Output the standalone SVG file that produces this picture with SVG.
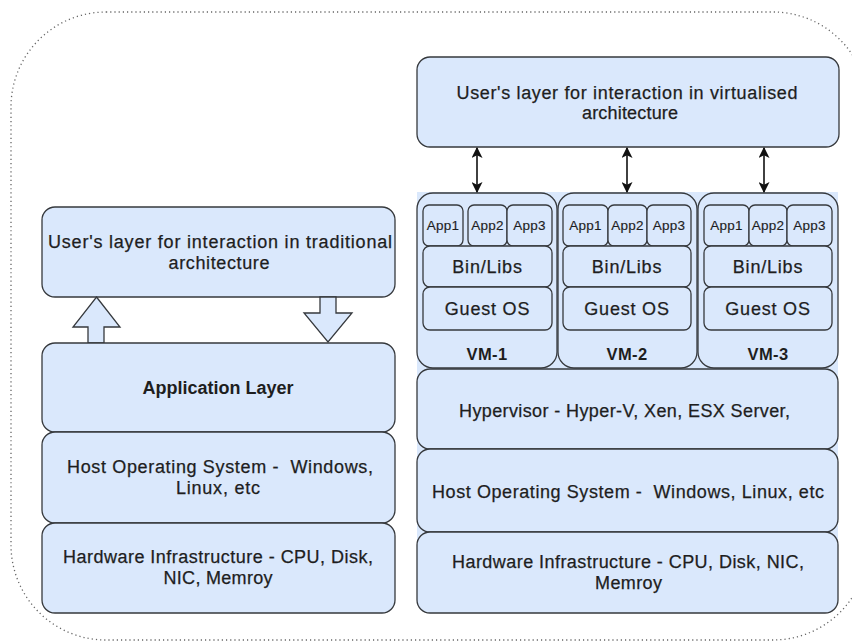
<svg xmlns="http://www.w3.org/2000/svg" width="852" height="641" viewBox="0 0 852 641">
  <style>
    .box { fill: #dae8fc; stroke: #36393d; stroke-width: 1.3; }
    .t { font-family: "Liberation Sans", Arial, sans-serif; font-size: 18px; fill: #1e1e1e; stroke: #1e1e1e; stroke-width: 0.25; text-anchor: middle; }
    .b { font-weight: bold; stroke-width: 0; }
    .app { font-size: 13.5px; letter-spacing: 0.3px; stroke-width: 0.15; }
    .mid { letter-spacing: 0.8px; }
    .vm { font-size: 16.5px; font-weight: bold; letter-spacing: 0.4px; stroke-width: 0; }
    .link { stroke: #111; stroke-width: 1.6; fill: none; marker-start: url(#head); marker-end: url(#head); }
  </style>
  <defs>
    <marker id="head" viewBox="0 0 10 10" refX="9" refY="5" markerWidth="11" markerHeight="11" markerUnits="userSpaceOnUse" orient="auto-start-reverse">
      <path d="M0,0 L10,5 L0,10 L2.5,5 Z" fill="#111"/>
    </marker>
  </defs>

  <rect width="852" height="641" fill="#ffffff"/>

  <!-- dotted frame around both stacks -->
  <rect x="11" y="12" width="857" height="628" rx="95" ry="95" fill="none" stroke="#666" stroke-width="1.3" stroke-dasharray="1.2 3"/>

  <!-- ===== traditional architecture ===== -->
  <g id="trad-user">
    <rect class="box" x="42" y="207" width="353" height="90" rx="13"/>
    <text class="t" x="220" y="248" textLength="344" lengthAdjust="spacing">User's layer for interaction in traditional</text>
    <text class="t" x="219" y="269" textLength="101" lengthAdjust="spacing">architecture</text>
  </g>

  <g id="trad-up-arrow">
    <polygon class="box" points="96.5,297 120,327 104,327 104,343 88,343 88,327 73,327"/>
  </g>
  <g id="trad-down-arrow">
    <polygon class="box" points="320,297 336,297 336,313 352,313 328,342 304,313 320,313"/>
  </g>

  <g id="trad-app">
    <rect class="box" x="42" y="343" width="353" height="89" rx="13"/>
    <text class="t b" x="218" y="394">Application Layer</text>
  </g>

  <g id="trad-host-os">
    <rect class="box" x="42" y="432" width="353" height="91" rx="13"/>
    <text class="t" x="220" y="473" textLength="306" lengthAdjust="spacing">Host Operating System -&#160; Windows,</text>
    <text class="t" x="218" y="494" textLength="84" lengthAdjust="spacing">Linux, etc</text>
  </g>

  <g id="trad-hardware">
    <rect class="box" x="42" y="523" width="353" height="90" rx="13"/>
    <text class="t" x="218" y="563" textLength="310" lengthAdjust="spacing">Hardware Infrastructure - CPU, Disk,</text>
    <text class="t" x="218" y="584" textLength="109" lengthAdjust="spacing">NIC, Memroy</text>
  </g>

  <!-- ===== virtualised architecture ===== -->
  <g id="virt-user">
    <rect class="box" x="417" y="57" width="422" height="90" rx="13"/>
    <text class="t" x="627" y="99" textLength="341" lengthAdjust="spacing">User's layer for interaction in virtualised</text>
    <text class="t" x="630" y="119" textLength="96" lengthAdjust="spacing">architecture</text>
  </g>

  <!-- backdrop behind the VM row -->
  <rect x="417" y="192" width="421" height="350" fill="#dae8fc"/>

  <g id="vm-1">
    <rect class="box" x="417" y="193" width="140" height="175" rx="16"/>
    <rect class="box" x="423" y="205" width="40" height="41" rx="6"/>
    <rect class="box" x="468" y="205" width="39" height="41" rx="6"/>
    <rect class="box" x="507" y="205" width="45" height="41" rx="6"/>
    <rect class="box" x="423" y="246" width="129" height="41" rx="7"/>
    <rect class="box" x="423" y="287" width="129" height="43" rx="7"/>
    <text class="t app" x="443" y="230">App1</text>
    <text class="t app" x="487.5" y="230">App2</text>
    <text class="t app" x="529.5" y="230">App3</text>
    <text class="t mid" x="487.5" y="273">Bin/Libs</text>
    <text class="t mid" x="487.5" y="315">Guest OS</text>
    <text class="t vm" x="487" y="360">VM-1</text>
  </g>

  <g id="vm-2">
    <rect class="box" x="558" y="193" width="139" height="175" rx="16"/>
    <rect class="box" x="563" y="205" width="45" height="41" rx="6"/>
    <rect class="box" x="608" y="205" width="39" height="41" rx="6"/>
    <rect class="box" x="647" y="205" width="44" height="41" rx="6"/>
    <rect class="box" x="563" y="246" width="128" height="41" rx="7"/>
    <rect class="box" x="563" y="287" width="128" height="43" rx="7"/>
    <text class="t app" x="585.5" y="230">App1</text>
    <text class="t app" x="627.5" y="230">App2</text>
    <text class="t app" x="669" y="230">App3</text>
    <text class="t mid" x="627" y="273">Bin/Libs</text>
    <text class="t mid" x="627" y="315">Guest OS</text>
    <text class="t vm" x="627" y="360">VM-2</text>
  </g>

  <g id="vm-3">
    <rect class="box" x="698" y="193" width="140" height="175" rx="16"/>
    <rect class="box" x="704" y="205" width="45" height="41" rx="6"/>
    <rect class="box" x="749" y="205" width="38" height="41" rx="6"/>
    <rect class="box" x="787" y="205" width="45" height="41" rx="6"/>
    <rect class="box" x="704" y="246" width="128" height="41" rx="7"/>
    <rect class="box" x="704" y="287" width="128" height="43" rx="7"/>
    <text class="t app" x="726.5" y="230">App1</text>
    <text class="t app" x="768" y="230">App2</text>
    <text class="t app" x="809.5" y="230">App3</text>
    <text class="t mid" x="768" y="273">Bin/Libs</text>
    <text class="t mid" x="768" y="315">Guest OS</text>
    <text class="t vm" x="768" y="360">VM-3</text>
  </g>

  <g id="hypervisor">
    <rect class="box" x="417" y="369" width="421" height="80" rx="13"/>
    <text class="t" x="624.5" y="417" textLength="331" lengthAdjust="spacing">Hypervisor - Hyper-V, Xen, ESX Server,</text>
  </g>

  <g id="virt-host-os">
    <rect class="box" x="417" y="449" width="421" height="83" rx="13"/>
    <text class="t" x="628" y="498" textLength="392" lengthAdjust="spacing">Host Operating System -&#160; Windows, Linux, etc</text>
  </g>

  <g id="virt-hardware">
    <rect class="box" x="417" y="532" width="421" height="81" rx="13"/>
    <text class="t" x="628" y="568" textLength="352" lengthAdjust="spacing">Hardware Infrastructure - CPU, Disk, NIC,</text>
    <text class="t" x="628.5" y="589" textLength="67" lengthAdjust="spacing">Memroy</text>
  </g>

  <!-- links between the user layer and each VM -->
  <g id="connectors">
    <line class="link" x1="477" y1="148" x2="477" y2="192"/>
    <line class="link" x1="627" y1="148" x2="627" y2="192"/>
    <line class="link" x1="764" y1="148" x2="764" y2="192"/>
  </g>
</svg>
